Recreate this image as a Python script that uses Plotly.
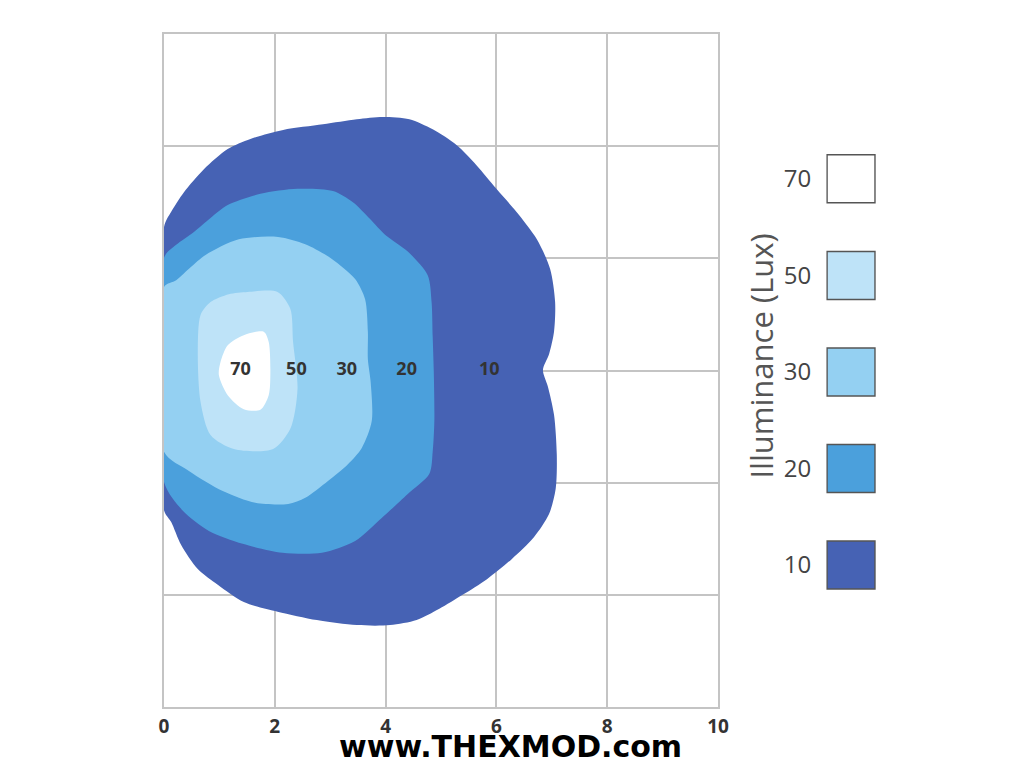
import plotly.graph_objects as go

# ---- data (contour boundaries; x in m, y in m) ----
lux_levels = ["10", "20", "30", "50", "70"]
colors = {"10": "#4662B4", "20": "#4BA0DC", "30": "#94D0F2", "50": "#BEE3F8", "70": "#FFFFFF"}

x10 = [0.00, 0.13, 0.36, 0.72, 1.15, 1.56, 2.15, 2.87, 3.48, 3.95, 4.43, 4.85, 5.28, 5.64, 6.00, 6.36,
       6.73, 6.97, 7.06, 7.04, 6.95, 6.84, 6.93, 7.04, 7.09, 7.07, 6.95, 6.68, 6.28, 5.83, 5.39, 4.97,
       4.56, 4.08, 3.48, 2.76, 2.05, 1.44, 0.97, 0.61, 0.31, 0.13, 0.00]
y10 = [2.56, 2.83, 3.18, 3.59, 3.95, 4.13, 4.29, 4.39, 4.48, 4.52, 4.48, 4.30, 4.02, 3.66, 3.24, 2.83,
       2.34, 1.81, 1.22, 0.69, 0.29, 0.01, -0.29, -0.79, -1.50, -2.11, -2.56, -2.97, -3.36, -3.72, -4.00, -4.25,
       -4.45, -4.54, -4.54, -4.45, -4.30, -4.13, -3.82, -3.54, -3.11, -2.70, -2.49]

x20 = [0.00, 0.22, 0.54, 0.84, 1.15, 1.74, 2.41, 3.05, 3.41, 3.72, 3.99, 4.40, 4.76, 4.83, 4.85, 4.87,
       4.88, 4.85, 4.79, 4.40, 3.93, 3.45, 2.85, 2.14, 1.42, 0.81, 0.34, 0.00]
y20 = [2.01, 2.24, 2.47, 2.72, 2.95, 3.15, 3.24, 3.20, 3.00, 2.70, 2.42, 2.12, 1.70, 1.22, 0.60, -0.03,
       -0.90, -1.45, -1.84, -2.20, -2.63, -3.04, -3.25, -3.25, -3.09, -2.86, -2.50, -1.99]

x30 = [0.00, 0.22, 0.48, 0.75, 1.35, 2.06, 2.55, 3.03, 3.45, 3.63, 3.68, 3.68, 3.73, 3.75, 3.57, 3.32,
       2.96, 2.55, 2.24, 1.65, 1.06, 0.45, 0.00]
y30 = [1.49, 1.61, 1.84, 2.06, 2.34, 2.38, 2.25, 1.99, 1.63, 1.27, 0.69, 0.20, -0.20, -0.90, -1.38, -1.67,
       -1.97, -2.27, -2.38, -2.36, -2.15, -1.79, -1.45]

x50 = [0.66, 0.84, 1.17, 1.51, 2.05, 2.28, 2.33, 2.41, 2.28, 1.97, 1.26, 0.84, 0.66, 0.61]
y50 = [0.99, 1.22, 1.36, 1.40, 1.40, 1.10, 0.51, -0.33, -1.04, -1.40, -1.40, -1.15, -0.56, 0.33]

x70 = [1.02, 1.15, 1.44, 1.80, 1.89, 1.92, 1.89, 1.74, 1.44, 1.15, 0.99]
y70 = [0.15, 0.45, 0.63, 0.69, 0.51, -0.03, -0.44, -0.70, -0.69, -0.44, -0.08]

label_x = [1.38, 2.39, 3.30, 4.38, 5.87]
label_text = ["70", "50", "30", "20", "10"]

x_ticks = [0, 2, 4, 6, 8, 10]
legend_levels = ["10", "20", "30", "50", "70"]

fig = go.Figure()
for lvl, xs, ys in [("10", x10, y10), ("20", x20, y20), ("30", x30, y30), ("50", x50, y50), ("70", x70, y70)]:
    fig.add_trace(go.Scatter(x=xs + xs[:1], y=ys + ys[:1], mode="lines", fill="toself",
                             fillcolor=colors[lvl], line=dict(width=0, shape="spline", smoothing=0.8),
                             hoverinfo="skip", showlegend=False, xaxis="x", yaxis="y"))

# contour value labels
fig.add_trace(go.Scatter(x=label_x, y=[0] * len(label_x), mode="text", text=label_text,
                         textfont=dict(family="Open Sans", size=18, color="#333333", weight="bold"),
                         showlegend=False, hoverinfo="skip"))

# legend built on a secondary axis
fig.add_trace(go.Scatter(x=[0.5] * len(legend_levels), y=legend_levels, mode="markers",
                         marker=dict(symbol="square", size=48, color=[colors[l] for l in legend_levels],
                                     line=dict(color="#555555", width=1.5)),
                         xaxis="x2", yaxis="y2", showlegend=False, hoverinfo="skip"))

# page body adds a small offset; the figure is sized/margined to compensate
OFF = 7
W, H = 1010, 761
L = 163 - OFF
R = (W + OFF) - 1000
T = 33 - OFF
B = (H + OFF) - 706
plot_w = W - L - R
plot_h = H - T - B


def px2dom(p):
    return (p - 163) / plot_w


def py2dom(p):
    return (706 - p) / plot_h


grid = "#c4c4c4"
fig.update_layout(
    width=W, height=H,
    margin=dict(l=L, r=R, t=T, b=B),
    paper_bgcolor="white", plot_bgcolor="white",
    xaxis=dict(domain=[0, px2dom(721)], range=[0, 10], tickvals=x_ticks, ticks="",
               showgrid=True, gridcolor=grid, gridwidth=1.5, zeroline=False,
               showline=True, linecolor=grid, linewidth=1.5, mirror=True,
               tickfont=dict(family="Open Sans", size=19, color="#333333", weight="bold"),
               ticklabelstandoff=1),
    yaxis=dict(domain=[0, 1], range=[-6, 6], dtick=2, showticklabels=False, ticks="",
               showgrid=True, gridcolor=grid, gridwidth=1.5, zeroline=False,
               showline=True, linecolor=grid, linewidth=1.5, mirror=True),
    xaxis2=dict(domain=[px2dom(830), px2dom(880)], range=[0, 1], visible=False, anchor="y2"),
    yaxis2=dict(domain=[py2dom(677), 1], range=[-1.17, 5.5], type="category", anchor="x2",
                categoryorder="array", categoryarray=legend_levels,
                showgrid=False, zeroline=False, showline=False, ticks="",
                tickfont=dict(family="Open Sans", size=24, color="#444444"),
                ticklabelstandoff=14,
                title=dict(text="Illuminance (Lux)", standoff=0,
                           font=dict(family="Open Sans", size=31, color="#555555"))),
    annotations=[
        dict(text="www.THEXMOD.com", x=px2dom(512), y=py2dom(745), xref="paper", yref="paper",
             xanchor="center", yanchor="middle", showarrow=False,
             font=dict(family="DejaVu Sans", size=30, color="#000000", weight="bold")),
    ],
)

fig.write_html("out.html")
